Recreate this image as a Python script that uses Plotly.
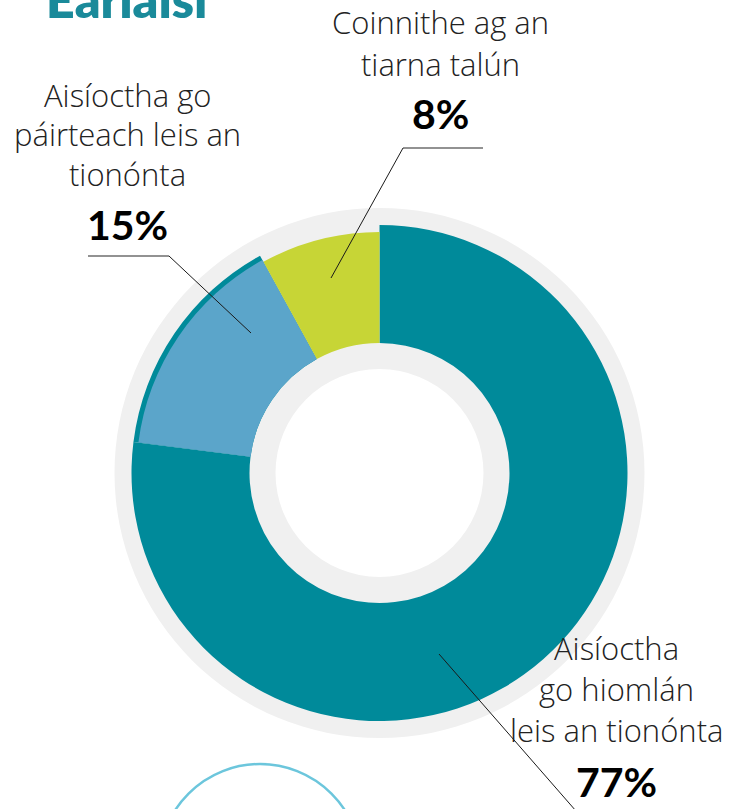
import plotly.graph_objects as go

W, H = 741, 809

# ---- data ----
categories = ["Aisíoctha go hiomlán leis an tionónta",
              "Aisíoctha go páirteach leis an tionónta",
              "Coinnithe ag an tiarna talún"]
values = [77, 15, 8]
pct_text = ["77%", "15%", "8%"]
label_lines = [["Aisíoctha", "go hiomlán", "leis an tionónta"],
               ["Aisíoctha go", "páirteach leis an", "tionónta"],
               ["Coinnithe ag an", "tiarna talún"]]
title_text = "Earlaisí"

# ---- style ----
TEAL = "#008a9a"
BLUE = "#5ba5ca"
GREEN = "#c7d536"
GRAY = "#f0f0f0"
CLEAR = "rgba(0,0,0,0)"
CX, CY = 379.5, 473


def px(x):
    return x / W


def py(y):
    return 1 - y / H


def dom(r):
    return dict(x=[px(CX - r), px(CX + r)], y=[py(CY + r), py(CY - r)])


def ring(r_out, r_in, cols, vals):
    return go.Pie(values=vals, labels=categories[:len(vals)], sort=False,
                  direction="clockwise", rotation=0, hole=r_in / r_out,
                  domain=dom(r_out), marker=dict(colors=cols, line=dict(width=0)),
                  textinfo="none", hoverinfo="skip", showlegend=False)


fig = go.Figure()
fig.add_trace(ring(265, 104, [GRAY], [1]))
fig.add_trace(ring(248, 130, [TEAL, TEAL, CLEAR], values))
fig.add_trace(ring(243, 130, [CLEAR, BLUE, CLEAR], values))
fig.add_trace(ring(241, 130, [CLEAR, CLEAR, GREEN], values))

LIGHT = dict(family="Open Sans", size=31, color="#222222", weight=300)
BOLD = dict(family="Lato", size=41, color="#000000", weight=700)

# label block placements (center x, first baseline, line step, pct baseline)
blocks = [(616, 660, 41, 797), (127, 107, 39.5, 240), (441, 34, 42, 129)]
K_LIGHT = 0.40
K_BOLD = 0.38
ann = []
for (cx, b0, step, pb), lines, pt in zip(blocks, label_lines, pct_text):
    for i, ln in enumerate(lines):
        base = b0 + i * step
        ann.append(dict(x=px(cx), y=py(base - K_LIGHT * LIGHT["size"]), xref="paper", yref="paper",
                        text=ln, showarrow=False, xanchor="center", yanchor="middle", font=LIGHT))
    ann.append(dict(x=px(cx), y=py(pb - K_BOLD * BOLD["size"]), xref="paper", yref="paper",
                    text=pt, showarrow=False, xanchor="center", yanchor="middle", font=BOLD))

ann.append(dict(x=px(128), y=py(15 - 0.33 * 50), xref="paper", yref="paper", text=title_text,
                showarrow=False, xanchor="center", yanchor="middle",
                font=dict(family="Lato", size=50, color="#1a8a9a", weight=800)))

shapes = []


def seg(x0, y0, x1, y1, color, width):
    shapes.append(dict(type="line", xref="paper", yref="paper", x0=px(x0), y0=py(y0),
                       x1=px(x1), y1=py(y1), line=dict(color=color, width=width)))


# leader lines
seg(403, 148, 483, 148, "#6e6e6e", 1.5)
seg(331, 278, 403, 148, "#1a1a1a", 1)
seg(88, 256, 169, 256, "#6e6e6e", 1.5)
seg(169, 256, 251, 333, "#1a1a1a", 1)
seg(439, 654, 576, 811, "#1a1a1a", 1)

# partial circle at the bottom
shapes.append(dict(type="circle", xref="paper", yref="paper",
                   x0=px(260 - 101), x1=px(260 + 101), y0=py(865 + 101), y1=py(865 - 101),
                   line=dict(color="#6cc6dc", width=2.5)))

fig.update_layout(width=W, height=H, margin=dict(l=0, r=0, t=0, b=0),
                  paper_bgcolor="white", plot_bgcolor="white",
                  annotations=ann, shapes=shapes, hovermode=False)

fig.write_html("out.html", config={"displayModeBar": False},
               post_script="document.body.style.margin='0';")
